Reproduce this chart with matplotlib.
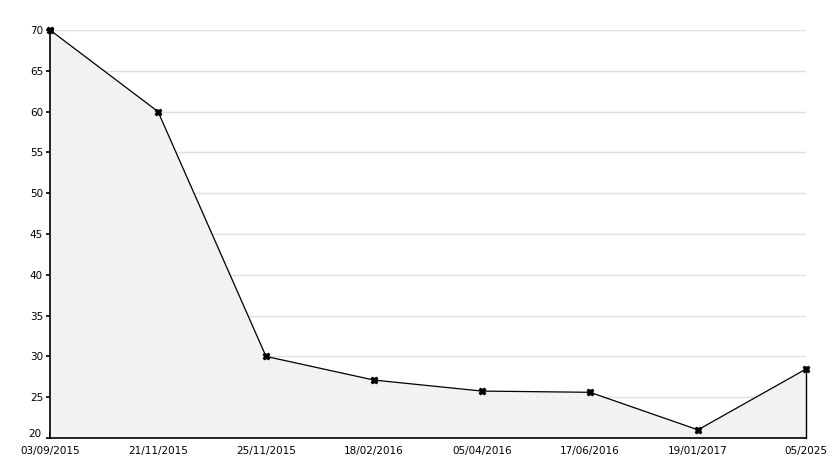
import matplotlib
matplotlib.use("Agg")
import matplotlib.pyplot as plt
from matplotlib.ticker import MultipleLocator, FuncFormatter

dates = ["03/09/2015", "21/11/2015", "25/11/2015", "18/02/2016", "05/04/2016",
         "17/06/2016", "19/01/2017", "05/2025"]
values = [70, 60, 30, 27.1, 25.75, 25.6, 21.0, 28.45]
y_min, y_max = 20, 70

W, H = 834, 468
fig = plt.figure(figsize=(W / 100, H / 100), dpi=100)
ax = fig.add_axes([50 / W, 1 - 438 / H, (806 - 50) / W, (438 - 30) / H])

x = list(range(len(dates)))
ax.fill_between(x, values, y_min, color="#f2f2f2", zorder=1)
ax.plot(x, values, color="black", lw=0.9, marker="X", markersize=5, zorder=3, clip_on=False)
ax.plot([x[-1], x[-1]], [y_min, values[-1]], color="black", lw=1.0, zorder=3, clip_on=False)

ax.set_xlim(0, len(dates) - 1)
ax.set_ylim(y_min, y_max)
ax.yaxis.set_major_locator(MultipleLocator(5))
ax.yaxis.set_minor_locator(MultipleLocator(1))
ax.yaxis.set_major_formatter(FuncFormatter(lambda v, p: "" if v == y_min else f"{v:.0f}"))
ax.set_xticks(x)
ax.set_xticklabels(dates)
for lbl in ax.get_xticklabels() + ax.get_yticklabels():
    lbl.set_fontsize(7.5)
    lbl.set_family("DejaVu Sans")

# bottom y label, raised slightly as in the reference
ax.annotate(f"{y_min}", xy=(0, y_min), xycoords=("axes fraction", "data"),
            xytext=(-6, 3), textcoords="offset points", ha="right", va="center",
            fontsize=7.5)

ax.grid(axis="y", which="major", color="#e0e0e0", lw=1, zorder=0)
ax.set_axisbelow(True)
for s in ["top", "right"]:
    ax.spines[s].set_visible(False)
for s in ["left", "bottom"]:
    ax.spines[s].set_linewidth(1.2)
    ax.spines[s].set_zorder(4)
ax.tick_params(axis="y", which="major", direction="inout", length=6, width=1.2, pad=2)
ax.tick_params(axis="y", which="minor", direction="in", length=3, width=1.2)
ax.tick_params(axis="x", which="major", direction="in", length=4, width=1.2, pad=6)

fig.savefig("out.png", dpi=100)
